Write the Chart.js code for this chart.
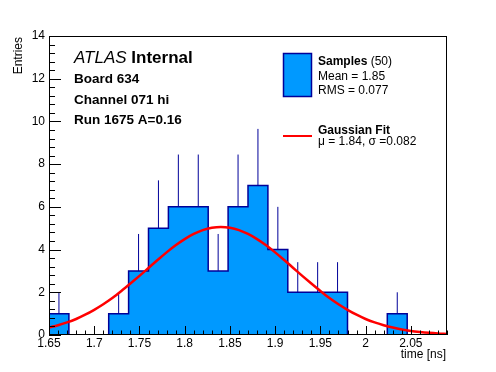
<!DOCTYPE html>
<html>
<head>
<meta charset="utf-8">
<script src="https://cdn.jsdelivr.net/npm/chart.js@4/dist/chart.umd.min.js"></script>
<style>
  html, body { margin: 0; padding: 0; background: #fff; }
  #caja { width: 496px; height: 372px; position: relative; }
</style>
</head>
<body>
<div id="caja"><canvas id="grafica"></canvas></div>
<script>
// Bordes de los bins (20 bins)
const bordesBins = [1.65, 1.672, 1.694, 1.716, 1.738, 1.76, 1.782, 1.804, 1.826, 1.848, 1.87,
                    1.892, 1.914, 1.936, 1.958, 1.98, 2.002, 2.024, 2.046, 2.068, 2.09];
// Entradas por bin
const cuentas = [1, 0, 0, 1, 3, 5, 6, 6, 3, 6, 7, 4, 2, 2, 2, 0, 0, 1, 0, 0];
// Extremo superior de la barra de error de cada bin
const errorSup = [2, 0, 0, 2, 4.73, 7.24, 8.45, 8.45, 4.73, 8.45, 9.65, 6, 3.41, 3.41, 3.41, 0, 0, 2, 0, 0];

// Curva del ajuste gaussiano
const ajusteX = [1.65, 1.66, 1.67, 1.68, 1.69, 1.70, 1.71, 1.72, 1.73, 1.74, 1.75, 1.76, 1.77, 1.78, 1.79,
                 1.80, 1.81, 1.82, 1.83, 1.84, 1.85, 1.86, 1.87, 1.88, 1.89, 1.90, 1.91, 1.92, 1.93, 1.94,
                 1.95, 1.96, 1.97, 1.98, 1.99, 2.00, 2.01, 2.02, 2.03, 2.04, 2.05, 2.06, 2.07, 2.08, 2.09];
const ajusteY = [0.35, 0.46, 0.59, 0.75, 0.95, 1.18, 1.44, 1.73, 2.06, 2.41, 2.77, 3.14, 3.51, 3.87, 4.20,
                 4.49, 4.73, 4.91, 5.02, 5.06, 5.02, 4.91, 4.73, 4.49, 4.20, 3.87, 3.51, 3.14, 2.77, 2.41,
                 2.06, 1.73, 1.44, 1.18, 0.95, 0.75, 0.59, 0.46, 0.35, 0.26, 0.19, 0.14, 0.10, 0.07, 0.05];

const ticksX = [1.65, 1.7, 1.75, 1.8, 1.85, 1.9, 1.95, 2, 2.05];
const etiquetasX = ['1.65', '1.7', '1.75', '1.8', '1.85', '1.9', '1.95', '2', '2.05'];
const ticksY = [0, 2, 4, 6, 8, 10, 12, 14];

const FUENTE = '"Liberation Sans", Arial, Helvetica, sans-serif';
const AZUL = '#0099ff';
const AZUL_OSCURO = '#000099';

// Histograma como línea escalonada
const puntosHist = bordesBins.map((x, i) => ({ x, y: i < cuentas.length ? cuentas[i] : cuentas[cuentas.length - 1] }));

// Barras de error: solo la parte superior, cortadas con null
const puntosError = [];
cuentas.forEach((n, i) => {
    if (n <= 0) return;
    const c = (bordesBins[i] + bordesBins[i + 1]) / 2;
    puntosError.push({ x: c, y: n }, { x: c, y: errorSup[i] }, { x: c, y: null });
});

const puntosAjuste = ajusteX.map((x, i) => ({ x, y: ajusteY[i] }));

// Marco y marcas hacia dentro, estilo ROOT
const marco = {
    id: 'marco',
    afterDatasetsDraw(chart) {
        const { ctx, chartArea: a, scales: { x, y } } = chart;
        ctx.save();
        ctx.strokeStyle = '#000';
        ctx.lineWidth = 1;
        ctx.beginPath();
        for (let k = 0; k <= 44; k++) {
            const px = Math.round(x.getPixelForValue(1.65 + k * 0.01)) + 0.5;
            const largo = k % 5 === 0 ? 9 : 4.5;
            ctx.moveTo(px, a.bottom);
            ctx.lineTo(px, a.bottom - largo);
        }
        for (let k = 0; k <= 35; k++) {
            const py = Math.round(y.getPixelForValue(k * 0.4)) + 0.5;
            const largo = k % 5 === 0 ? 12 : 6;
            ctx.moveTo(a.left, py);
            ctx.lineTo(a.left + largo, py);
        }
        ctx.stroke();
        ctx.strokeRect(Math.round(a.left) + 0.5, Math.round(a.top) + 0.5,
                       Math.round(a.width) - 1, Math.round(a.height) - 1);
        ctx.restore();
    },
    afterDraw(chart) {
        const ctx = chart.ctx;
        ctx.save();
        ctx.fillStyle = '#000';
        ctx.textBaseline = 'alphabetic';
        ctx.textAlign = 'left';

        // Títulos de ejes
        ctx.font = `12px ${FUENTE}`;
        ctx.textAlign = 'right';
        ctx.fillText('time [ns]', 446, 358);
        ctx.save();
        ctx.translate(22, 37);
        ctx.rotate(-Math.PI / 2);
        ctx.fillText('Entries', 0, 0);
        ctx.restore();
        ctx.textAlign = 'left';

        // Etiqueta ATLAS
        ctx.font = `italic 17px ${FUENTE}`;
        ctx.fillText('ATLAS', 74, 63);
        const w = ctx.measureText('ATLAS ').width;
        ctx.font = `bold 17px ${FUENTE}`;
        ctx.fillText('Internal', 74 + w, 63);
        ctx.font = `bold 13.5px ${FUENTE}`;
        ctx.fillText('Board 634', 74, 83);
        ctx.fillText('Channel 071 hi', 74, 103.5);
        ctx.fillText('Run 1675 A=0.16', 74, 124);

        // Leyenda
        ctx.fillStyle = AZUL;
        ctx.fillRect(283.5, 53.5, 28, 43);
        ctx.strokeStyle = AZUL_OSCURO;
        ctx.lineWidth = 1.5;
        ctx.strokeRect(283.5, 53.5, 28, 43);
        ctx.strokeStyle = '#ff0000';
        ctx.lineWidth = 2;
        ctx.beginPath();
        ctx.moveTo(283, 136);
        ctx.lineTo(312, 136);
        ctx.stroke();

        ctx.fillStyle = '#000';
        ctx.font = `bold 12px ${FUENTE}`;
        ctx.fillText('Samples', 318, 65);
        const ws = ctx.measureText('Samples').width;
        ctx.font = `12px ${FUENTE}`;
        ctx.fillText(' (50)', 318 + ws, 65);
        ctx.fillText('Mean = 1.85', 318, 80);
        ctx.fillText('RMS = 0.077', 318, 94);
        ctx.font = `bold 12px ${FUENTE}`;
        ctx.fillText('Gaussian Fit', 318, 134);
        ctx.font = `12px ${FUENTE}`;
        ctx.fillText('\u03bc = 1.84, \u03c3 =0.082', 318, 145);
        ctx.restore();
    }
};

new Chart(document.getElementById('grafica'), {
    type: 'line',
    data: {
        datasets: [
            {
                label: 'Gaussian Fit',
                data: puntosAjuste,
                borderColor: '#ff0000',
                borderWidth: 2.5,
                pointRadius: 0,
                fill: false,
                cubicInterpolationMode: 'monotone',
                order: 0
            },
            {
                label: 'errores',
                data: puntosError,
                borderColor: AZUL_OSCURO,
                borderWidth: 1,
                pointRadius: 0,
                fill: false,
                spanGaps: false,
                order: 1
            },
            {
                label: 'Samples',
                data: puntosHist,
                borderColor: AZUL_OSCURO,
                backgroundColor: AZUL,
                borderWidth: 1.5,
                pointRadius: 0,
                stepped: true,
                fill: 'origin',
                order: 2
            }
        ]
    },
    options: {
        responsive: true,
        maintainAspectRatio: false,
        animation: false,
        devicePixelRatio: 1,
        layout: { padding: { top: 36, right: 49, bottom: 0, left: 0 } },
        plugins: { legend: { display: false }, tooltip: { enabled: false } },
        scales: {
            x: {
                type: 'linear',
                min: 1.65,
                max: 2.09,
                grid: { display: false, drawTicks: false },
                border: { display: false },
                afterBuildTicks: s => { s.ticks = ticksX.map(v => ({ value: v })); },
                afterFit: s => { s.height = 37; },
                ticks: {
                    color: '#000',
                    padding: 1,
                    maxRotation: 0,
                    autoSkip: false,
                    font: { family: FUENTE, size: 12 },
                    callback: (v, i) => etiquetasX[i]
                }
            },
            y: {
                min: 0,
                max: 14,
                grid: { display: false, drawTicks: false },
                border: { display: false },
                afterBuildTicks: s => { s.ticks = ticksY.map(v => ({ value: v })); },
                afterFit: s => { s.width = 49; },
                ticks: {
                    color: '#000',
                    padding: 4,
                    autoSkip: false,
                    font: { family: FUENTE, size: 12 },
                    callback: v => String(v)
                }
            }
        }
    },
    plugins: [marco]
});
</script>
</body>
</html>
